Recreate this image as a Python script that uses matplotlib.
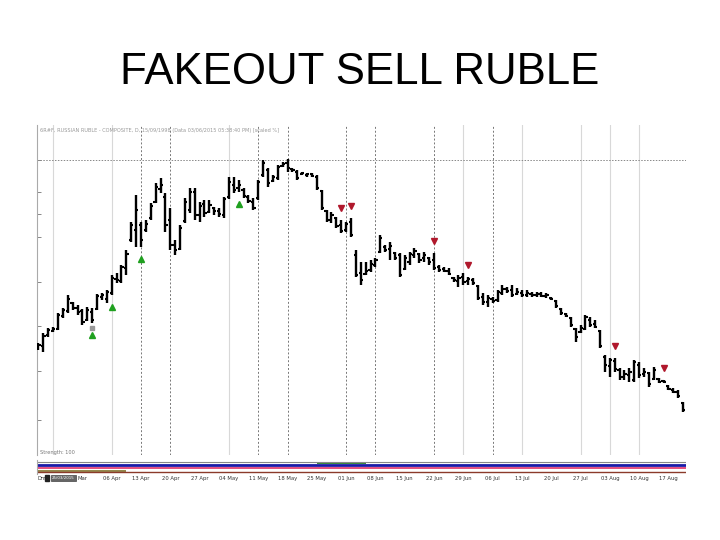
import matplotlib
matplotlib.use("Agg")
import matplotlib.pyplot as plt
import numpy as np

# daily OHLC of the ruble contract (price points), 6 sessions a week
opens = [1626, 1628, 1650, 1658, 1662, 1688, 1698, 1714, 1704, 1698, 1680, 1696, 1702, 1726, 1722, 1734, 1762, 1758, 1784,
         1840, 1860, 1870, 1860, 1884, 1916, 1942, 1926, 1880, 1830,
         1822, 1878, 1900, 1936, 1890, 1912, 1896, 1904, 1898, 1890,
         1926, 1950, 1944, 1940, 1926, 1916, 1924, 1970, 1980, 1958,
         1964, 1988, 1994, 1982, 1976, 1972, 1970, 1972, 1966, 1938,
         1898, 1880, 1884, 1870, 1860, 1876, 1810, 1774, 1772, 1780,
         1790, 1816, 1826, 1822, 1814, 1810, 1782, 1796, 1810, 1812,
         1804, 1804, 1800, 1786, 1782, 1778, 1764, 1758, 1766, 1758,
         1760, 1748, 1726, 1716, 1722, 1720, 1734, 1742, 1740, 1732,
         1734, 1730, 1732, 1730, 1732, 1728, 1724, 1718, 1702, 1692,
         1684, 1662, 1656, 1662, 1680, 1672, 1658, 1606, 1588, 1598,
         1580, 1566, 1570, 1560, 1590, 1572, 1574, 1562, 1562, 1558,
         1548, 1540, 1536, 1514]
highs = [1634, 1654, 1664, 1666, 1694, 1704, 1730, 1716, 1710, 1702, 1706, 1704, 1732, 1734, 1740, 1770, 1774, 1790, 1820,
         1876, 1930, 1876, 1880, 1914, 1954, 1964, 1934, 1904, 1840,
         1870, 1924, 1944, 1944, 1916, 1920, 1920, 1906, 1904, 1926,
         1966, 1966, 1960, 1944, 1930, 1924, 1960, 2000, 1984, 1970,
         1990, 1996, 2002, 1984, 1980, 1976, 1974, 1974, 1970, 1940,
         1900, 1896, 1886, 1880, 1876, 1884, 1820, 1796, 1796, 1800,
         1804, 1850, 1830, 1836, 1816, 1814, 1810, 1816, 1824, 1814,
         1816, 1806, 1814, 1790, 1786, 1784, 1766, 1770, 1774, 1766,
         1764, 1750, 1734, 1730, 1726, 1740, 1750, 1746, 1750, 1744,
         1740, 1740, 1736, 1736, 1736, 1734, 1726, 1720, 1704, 1694,
         1686, 1664, 1670, 1690, 1686, 1680, 1660, 1610, 1604, 1604,
         1584, 1580, 1584, 1600, 1596, 1584, 1576, 1586, 1564, 1560,
         1550, 1544, 1540, 1516]
lows = [1620, 1616, 1646, 1656, 1660, 1684, 1694, 1700, 1690, 1670, 1678, 1674, 1700, 1720, 1714, 1730, 1754, 1754, 1770,
        1836, 1826, 1826, 1856, 1880, 1914, 1934, 1856, 1820, 1810,
        1820, 1874, 1894, 1880, 1876, 1886, 1894, 1890, 1886, 1884,
        1922, 1934, 1936, 1924, 1914, 1900, 1920, 1966, 1946, 1956,
        1960, 1986, 1976, 1976, 1960, 1970, 1966, 1966, 1940, 1900,
        1876, 1874, 1864, 1854, 1856, 1846, 1766, 1750, 1770, 1776,
        1786, 1814, 1816, 1800, 1800, 1766, 1780, 1790, 1804, 1794,
        1796, 1790, 1780, 1776, 1776, 1770, 1756, 1746, 1750, 1750,
        1750, 1720, 1710, 1706, 1714, 1716, 1730, 1734, 1726, 1730,
        1726, 1726, 1726, 1726, 1726, 1724, 1720, 1704, 1690, 1686,
        1666, 1636, 1654, 1660, 1666, 1664, 1624, 1576, 1566, 1576,
        1560, 1560, 1556, 1556, 1564, 1566, 1546, 1560, 1554, 1554,
        1540, 1534, 1524, 1496]
closes = [1630, 1648, 1660, 1662, 1690, 1700, 1722, 1704, 1696, 1676, 1700, 1680, 1728, 1730, 1736, 1764, 1760, 1786, 1812,
          1870, 1900, 1840, 1872, 1908, 1946, 1950, 1870, 1830, 1820,
          1864, 1916, 1936, 1890, 1908, 1894, 1910, 1898, 1892, 1922,
          1956, 1940, 1950, 1928, 1918, 1904, 1956, 1994, 1954, 1966,
          1986, 1992, 1984, 1980, 1964, 1974, 1972, 1968, 1944, 1904,
          1880, 1890, 1868, 1858, 1872, 1850, 1770, 1760, 1778, 1792,
          1800, 1844, 1820, 1828, 1804, 1770, 1804, 1812, 1818, 1800,
          1810, 1796, 1784, 1780, 1778, 1772, 1760, 1764, 1756, 1762,
          1754, 1724, 1716, 1724, 1718, 1736, 1742, 1738, 1730, 1736,
          1730, 1734, 1730, 1732, 1728, 1730, 1722, 1708, 1694, 1688,
          1670, 1646, 1664, 1686, 1670, 1666, 1628, 1590, 1600, 1582,
          1566, 1572, 1576, 1596, 1570, 1576, 1552, 1580, 1556, 1556,
          1542, 1536, 1528, 1500]

# signal bars
buy_bars = [11, 15, 21, 41]
sell_bars = [62, 64, 81, 88, 118, 128]

# weekly date labels (every 6th bar from bar 9)
week_labels = ['Mar', '06 Apr', '13 Apr', '20 Apr', '27 Apr', '04 May', '11 May', '18 May', '25 May',
               '01 Jun', '08 Jun', '15 Jun', '22 Jun', '29 Jun', '06 Jul', '13 Jul', '20 Jul', '27 Jul',
               '03 Aug', '10 Aug', '17 Aug']
dashed_weeks = ['13 Apr', '20 Apr', '11 May', '18 May', '01 Jun', '08 Jun', '22 Jun', '06 Jul']
light_weeks = ['06 Apr', '04 May', '29 Jun', '13 Jul', '27 Jul', '03 Aug', '10 Aug']
peak_level = 2000

n = len(closes)
x = np.arange(n)
week_pos = 9 + 6 * np.arange(len(week_labels))

fig = plt.figure(figsize=(7.2, 5.4), dpi=100)
fig.patch.set_facecolor('white')

fig.text(0.5, 1 - 84 / 540, 'FAKEOUT SELL RUBLE', ha='center', va='baseline',
         fontsize=31.5, family='Liberation Sans', color='black')

ax = fig.add_axes([37 / 720, 1 - 455 / 540, 649 / 720, 330 / 540])
ax.set_xlim(-0.3, n - 0.4)
ax.set_ylim(1410, 2070)

for lab, pos in zip(week_labels, week_pos):
    if lab in dashed_weeks:
        ax.axvline(pos, color='#777777', lw=0.7, ls=(0, (2, 2)), zorder=1)
    elif lab in light_weeks:
        ax.axvline(pos, color='#d8d8d8', lw=0.8, zorder=1)
ax.axvline(3, color='#d8d8d8', lw=0.8, zorder=1)
ax.axhline(peak_level, color='#888888', lw=0.7, ls=(0, (1.5, 1.5)), zorder=1)

# OHLC bars
ax.vlines(x, lows, highs, color='black', lw=1.7, zorder=3)
ax.hlines(opens, x - 0.45, x, color='black', lw=1.5, zorder=3)
ax.hlines(closes, x, x + 0.45, color='black', lw=1.5, zorder=3)

off = 24
ax.plot(buy_bars, [lows[i] - off for i in buy_bars], ls='none', marker='^',
        ms=4, color='#1fa01f', zorder=4)
ax.plot(sell_bars, [highs[i] + off for i in sell_bars], ls='none', marker='v',
        ms=4, color='#b0182c', zorder=4)
ax.plot([buy_bars[0]], [lows[buy_bars[0]] - 10], ls='none', marker='s', ms=3,
        color='#999999', zorder=4)

for s in ['top', 'right', 'bottom']:
    ax.spines[s].set_visible(False)
ax.spines['left'].set_color('#aaaaaa')
ax.spines['left'].set_linewidth(0.8)
ax.set_xticks([])
ax.set_yticks([2000, 1936, 1892, 1846, 1756, 1668, 1578, 1480])
ax.tick_params(axis='y', length=3, width=0.7, color='#888888', labelleft=False, direction='in')

ax.text(0.005, 0.99, '6R#F, RUSSIAN RUBLE - COMPOSITE, D, 15/09/1998 (Data 03/06/2015 05:38:40 PM) [scaled %]',
        transform=ax.transAxes, fontsize=3.6, color='#999999', va='top', ha='left')
ax.text(0.005, 0.0, 'Strength: 100', transform=ax.transAxes, fontsize=3.6,
        color='#777777', va='bottom', ha='left')

# indicator strip
pan = fig.add_axes([37 / 720, 1 - 474 / 540, 649 / 720, 14 / 540])
pan.set_xlim(-0.3, n - 0.4)
pan.set_ylim(0, 1)
pan.axhline(0.88, color='#888888', lw=0.8)
pan.axhline(0.62, color='#1a1aa8', lw=2.0)
pan.axhline(0.42, color='#e0306a', lw=1.2)
pan.axhline(0.15, color='#8b3a2a', lw=1.0)
pan.fill_between(x[57:68], 0.7, 0.85, color='#3a8a3a', lw=0)
pan.fill_between(x[0:19], 0.15, 0.3, color='#7a6a20', lw=0, alpha=0.8)
for s in pan.spines.values():
    s.set_visible(False)
pan.spines['left'].set_visible(True)
pan.spines['left'].set_color('#aaaaaa')
pan.set_yticks([])
pan.set_xticks(week_pos)
pan.set_xticklabels(week_labels, fontsize=3.8, color='#333333')
pan.tick_params(axis='x', length=0, pad=1.5)

fig.text(37 / 720, 1 - 478 / 540, 'Dm:', fontsize=3.6, color='#333333', va='center')
fig.text(46 / 720, 1 - 478 / 540, ' ', fontsize=3.2, va='center',
         bbox=dict(boxstyle='square,pad=0.3', fc='#222222', ec='#222222'))
fig.text(52 / 720, 1 - 478 / 540, '25/03/2015', fontsize=2.9, color='white', va='center',
         bbox=dict(boxstyle='square,pad=0.2', fc='#666666', ec='#444444', lw=0.5))

fig.savefig('out.png', dpi=100, facecolor='white')
